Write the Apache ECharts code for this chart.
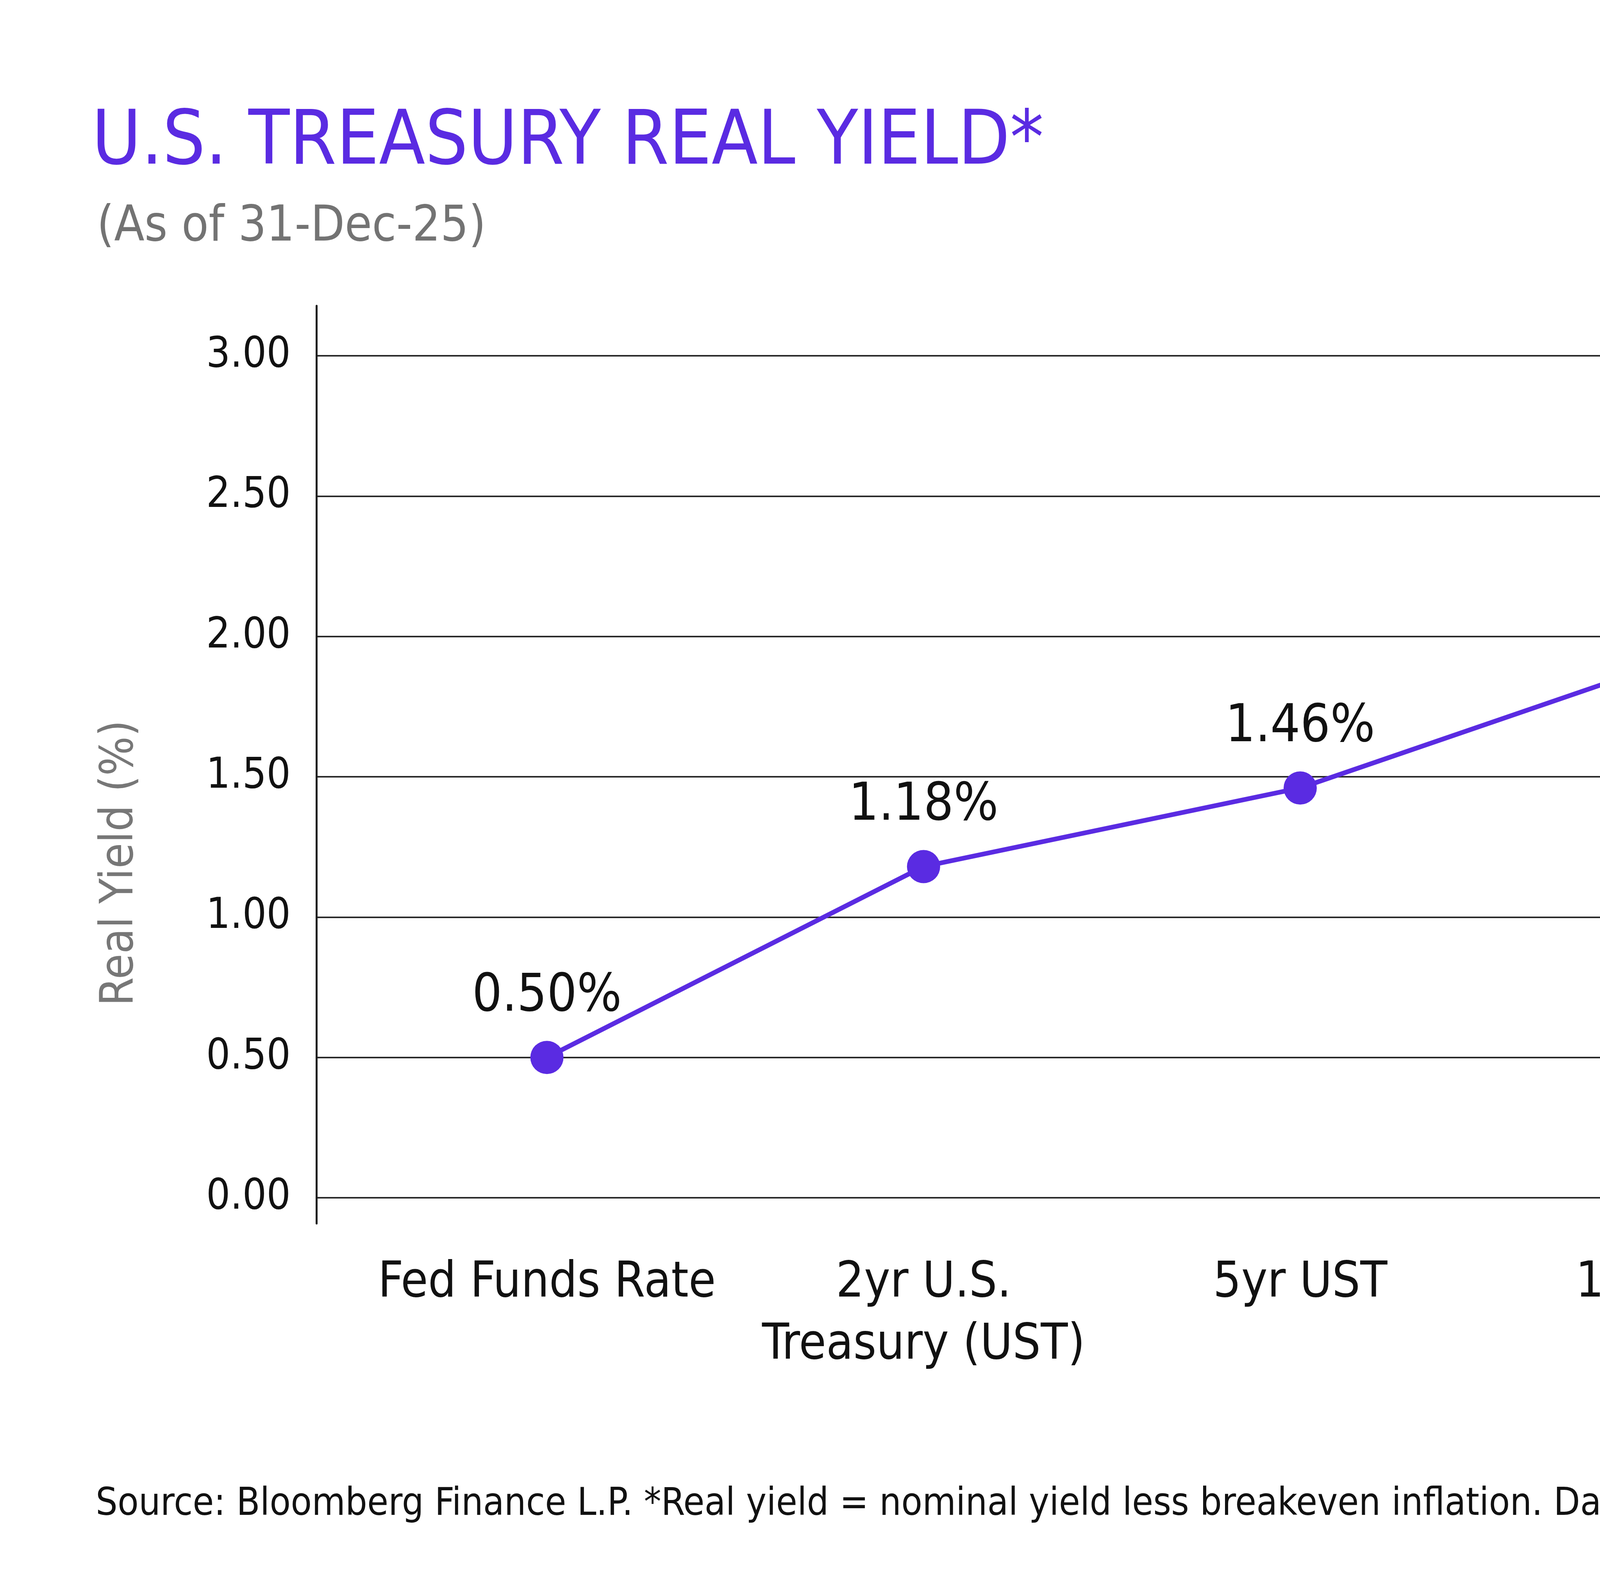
<!DOCTYPE html>
<html>
<head>
<meta charset="utf-8">
<script src="https://cdn.jsdelivr.net/npm/echarts@6/dist/echarts.min.js"></script>
<style>
html,body{margin:0;padding:0;background:#fff;}
#chart{width:6017px;height:4033px;}
</style>
</head>
<body>
<div id="chart"></div>
<script>
const categories = ['Fed Funds Rate', '2yr U.S.\nTreasury (UST)', '5yr UST', '10yr UST', '30yr UST'];
const realYield = [0.50, 1.18, 1.46, 1.92, 2.62];
const yTicks = { min: 0, max: 3, interval: 0.5 };
const titleText = 'U.S. TREASURY REAL YIELD*';
const subtitleText = '(As of 31-Dec-25)';
const yAxisName = 'Real Yield (%)';
const footerText = 'Source: Bloomberg Finance L.P. *Real yield = nominal yield less breakeven inflation. Data as of 31-Dec-25.';

const FONT = "'DejaVu Sans Condensed', 'DejaVu Sans', sans-serif";
const PURPLE = '#5A2BE2';

const chart = echarts.init(document.getElementById('chart'), null, { renderer: 'canvas' });
chart.setOption({
  backgroundColor: '#ffffff',
  animation: false,
  textStyle: { fontFamily: FONT },
  title: [
    { text: titleText, left: 230, top: 268,
      textStyle: { fontFamily: FONT, fontSize: 192, fontWeight: 'normal', color: PURPLE } },
    { text: subtitleText, left: 243, top: 515,
      textStyle: { fontFamily: FONT, fontSize: 126, fontWeight: 'normal', color: '#737373' } },
    { text: footerText, left: 240, top: 3800,
      textStyle: { fontFamily: FONT, fontSize: 98, fontWeight: 'normal', color: '#111' } }
  ],
  graphic: [
    { type: 'text', x: 308, y: 2210, rotation: Math.PI / 2,
      style: { text: yAxisName, fontFamily: FONT, fontSize: 118, fill: '#777777',
               align: 'center', verticalAlign: 'middle' } }
  ],
  grid: [
    { left: 810, right: 442, top: 911, bottom: 966 },
    { left: 918, right: 278, top: 911, bottom: 966 },
    { left: 810, right: 442, top: 783, bottom: 900 }
  ],
  xAxis: [
    { type: 'category', gridIndex: 0, data: categories, show: false },
    { type: 'category', gridIndex: 1, data: categories, boundaryGap: true,
      axisLine: { show: false }, axisTick: { show: false }, splitLine: { show: false },
      axisLabel: { fontFamily: FONT, fontSize: 126, lineHeight: 159, color: '#111', margin: 141, interval: 0 } },
    { type: 'category', gridIndex: 2, data: categories, show: false }
  ],
  yAxis: [
    { type: 'value', gridIndex: 0, min: yTicks.min, max: yTicks.max, interval: yTicks.interval,
      axisLine: { show: false }, axisTick: { show: false },
      splitLine: { show: true, lineStyle: { color: '#2a2a2a', width: 4 } },
      axisLabel: { fontFamily: FONT, fontSize: 108, color: '#111', margin: 66,
                   formatter: v => v.toFixed(2) } },
    { type: 'value', gridIndex: 1, min: yTicks.min, max: yTicks.max, interval: yTicks.interval, show: false },
    { type: 'value', gridIndex: 2, min: 0, max: 1, axisLine: { show: true, lineStyle: { color: '#1a1a1a', width: 5 } },
      axisTick: { show: false }, axisLabel: { show: false }, splitLine: { show: false } }
  ],
  series: [
    { type: 'line', xAxisIndex: 1, yAxisIndex: 1, data: realYield,
      symbol: 'circle', symbolSize: 85,
      lineStyle: { color: PURPLE, width: 12 },
      itemStyle: { color: PURPLE },
      label: { show: true, position: 'top', distance: 45, fontFamily: FONT, fontSize: 134, color: '#111',
               formatter: p => p.value.toFixed(2) + '%' } }
  ]
});
</script>
</body>
</html>
